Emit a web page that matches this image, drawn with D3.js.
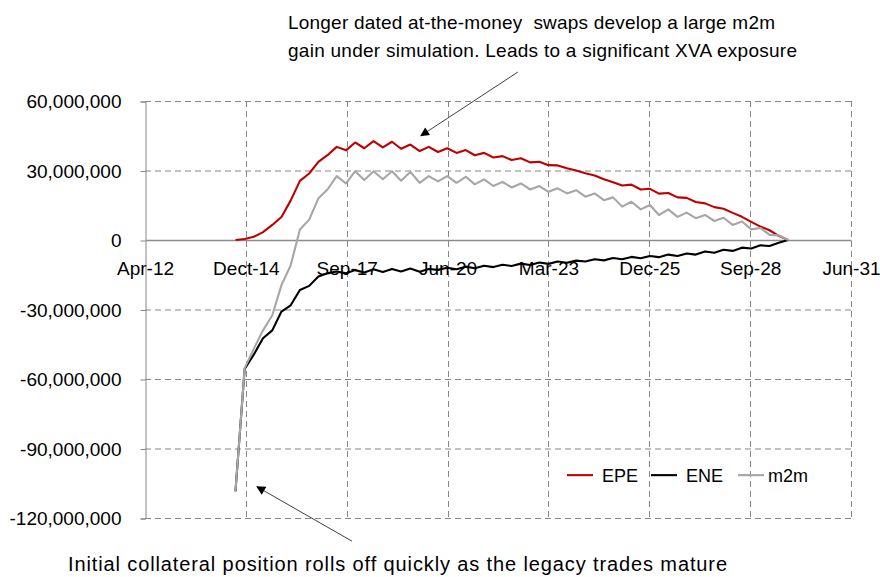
<!DOCTYPE html>
<html>
<head>
<meta charset="utf-8">
<script src="https://cdnjs.cloudflare.com/ajax/libs/d3/7.8.5/d3.min.js"></script>
<style>
  body { margin: 0; background: #fff; }
  text { font-family: "Liberation Sans", Arial, sans-serif; fill: #000; }
</style>
</head>
<body>
<div id="chart"></div>
<script>
// chart data (values in millions), quarterly points from Sep-14
var epe = [0, 0.4, 1.4, 3.4, 6.5, 9.9, 17.0, 25.5, 28.7, 33.7, 36.6,
    40.2, 38.7, 42.1, 39.6, 42.7, 40.0, 42.4, 39.4, 41.2, 38.4,
    40.2, 38.0, 39.6, 37.6, 38.8, 36.6, 37.6, 35.6, 36.2, 34.5,
    35.3, 33.5, 33.8, 32.3, 32.2, 31.0, 30.0, 28.8, 27.8, 26.2,
    24.9, 23.5, 23.9, 21.8, 22.1, 20.0, 20.3, 18.4, 18.2, 16.4,
    15.8, 14.2, 13.5, 11.7, 10.0, 7.8, 5.8, 4.2, 1.8, 0];

var ene = [-108.5, -55.7, -49.5, -42.4, -39.0, -30.9, -28.2, -21.6, -19.8, -15.8, -14.4,
    -13.6, -14.4, -13.0, -14.0, -12.6, -13.8, -12.5, -13.6, -12.3, -13.7,
    -12.5, -12.9, -12.0, -12.6, -11.5, -12.2, -11.1, -11.7, -10.7, -11.2,
    -10.2, -10.8, -9.7, -10.3, -9.3, -9.8, -8.9, -9.3, -8.3, -8.8,
    -7.8, -8.3, -7.3, -7.9, -6.9, -7.4, -6.3, -6.9, -5.8, -6.3,
    -5.0, -5.5, -4.2, -4.7, -3.3, -3.7, -2.3, -2.6, -1.2, 0];

var m2m = [-108.5, -55.3, -47.0, -39.0, -32.5, -19.5, -11.0, 4.5, 8.8, 18.0, 21.8,
    27.6, 24.4, 29.7, 25.9, 29.7, 26.2, 29.7, 25.6, 29.4, 24.7,
    27.6, 25.3, 27.6, 24.7, 27.3, 24.0, 26.2, 23.3, 25.1, 22.7,
    24.4, 21.8, 23.3, 20.8, 22.3, 20.1, 21.5, 18.7, 20.1, 17.2,
    18.4, 14.4, 16.5, 13.2, 15.1, 10.8, 13.2, 10.0, 11.8, 9.4,
    10.8, 8.2, 9.6, 6.5, 8.0, 4.6, 5.2, 2.2, 2.0, 0];

var seriesNames = ['EPE', 'ENE', 'm2m'];
var seriesColors = ['#c00000', '#000000', '#a6a6a6'];

var xTickDates = ['2012-04-01', '2014-12-27', '2017-09-22', '2020-06-18',
    '2023-03-15', '2025-12-09', '2028-09-04', '2031-06-01'];
var xTickLabels = ['Apr-12', 'Dect-14', 'Sep-17', 'Jun-20', 'Mar-23', 'Dec-25', 'Sep-28', 'Jun-31'];
var yTicks = [-120, -90, -60, -30, 0, 30, 60];

var noteTop = ['Longer dated at-the-money  swaps develop a large m2m',
    'gain under simulation. Leads to a significant XVA exposure'];
var noteBottom = 'Initial collateral position rolls off quickly as the legacy trades mature';

// svg size and margins
var svgWidth = 880;
var svgHeight = 577;

var margins = {
    top: 101,
    bottom: 59,
    right: 29,
    left: 145
};

var width = svgWidth - margins.left - margins.right;
var height = svgHeight - margins.top - margins.bottom;

var svg = d3.select('#chart')
    .append('svg')
    .attr('width', svgWidth)
    .attr('height', svgHeight);

var chartGroup = svg.append('g')
    .attr('transform', `translate(${margins.left}, ${margins.top})`);

// quarterly dates for the series
var parseDate = d3.timeParse('%Y-%m-%d');
var startDate = new Date(2014, 8, 15);
var dates = d3.range(epe.length).map(i => d3.timeMonth.offset(startDate, 3 * i));
var tickDates = xTickDates.map(parseDate);

// scales
var xScale = d3.scaleTime()
    .domain([tickDates[0], tickDates[tickDates.length - 1]])
    .range([0, width]);

var yScale = d3.scaleLinear()
    .domain([-120, 60])
    .range([height, 0]);

var fmt = d3.formatLocale({decimal: '.', thousands: ',', grouping: [3], currency: ['', ''], minus: '-'}).format(',');

// grid lines
chartGroup.append('g')
    .selectAll('line')
    .data(yTicks.filter(d => d !== 0))
    .enter()
    .append('line')
    .attr('x1', 0)
    .attr('x2', width)
    .attr('y1', d => yScale(d) + 0.5)
    .attr('y2', d => yScale(d) + 0.5)
    .attr('stroke', '#878787')
    .attr('stroke-width', 1)
    .attr('stroke-dasharray', '6,4');

chartGroup.append('g')
    .selectAll('line')
    .data(tickDates.slice(1))
    .enter()
    .append('line')
    .attr('x1', d => Math.round(xScale(d)) + 0.5)
    .attr('x2', d => Math.round(xScale(d)) + 0.5)
    .attr('y1', 0)
    .attr('y2', height)
    .attr('stroke', '#878787')
    .attr('stroke-width', 1)
    .attr('stroke-dasharray', '6,4');

// y axis
var leftAxis = d3.axisLeft(yScale)
    .tickValues(yTicks)
    .tickSize(5)
    .tickPadding(19)
    .tickFormat(d => fmt(d * 1e6));

var yAxisGroup = chartGroup.append('g')
    .attr('transform', 'translate(0.5, 0.5)')
    .call(leftAxis);

yAxisGroup.select('.domain').attr('stroke', '#868686');
yAxisGroup.selectAll('.tick line').attr('stroke', '#868686');
yAxisGroup.selectAll('text')
    .style('font-size', '19px')
    .attr('fill', '#000');

// x axis on the zero line
var bottomAxis = d3.axisBottom(xScale)
    .tickValues(tickDates)
    .tickSize(0)
    .tickSizeOuter(0)
    .tickPadding(22)
    .tickFormat((d, i) => xTickLabels[i]);

var xAxisGroup = chartGroup.append('g')
    .attr('transform', `translate(0, ${yScale(0)})`)
    .call(bottomAxis);

xAxisGroup.select('.domain')
    .attr('stroke', '#8c8c8c')
    .attr('stroke-width', 1.3);
xAxisGroup.selectAll('text')
    .style('font-size', '19px')
    .attr('fill', '#000');

// series lines
var series = [epe, ene, m2m];

var line = d3.line()
    .x((d, i) => xScale(dates[i]))
    .y(d => yScale(d));

chartGroup.selectAll('.series')
    .data(series)
    .enter()
    .append('path')
    .attr('class', 'series')
    .attr('d', d => line(d))
    .attr('fill', 'none')
    .attr('stroke', (d, i) => seriesColors[i])
    .attr('stroke-width', 2.1)
    .attr('stroke-linejoin', 'round');

// legend
var legendX = [422, 506, 593];
var legendY = yScale(-101.5);

var legend = chartGroup.selectAll('.legend')
    .data(seriesNames)
    .enter()
    .append('g')
    .attr('class', 'legend')
    .attr('transform', (d, i) => `translate(${legendX[i]}, ${legendY})`);

legend.append('line')
    .attr('x1', 0)
    .attr('x2', 26)
    .attr('y1', 0)
    .attr('y2', 0)
    .attr('stroke', (d, i) => seriesColors[i])
    .attr('stroke-width', 2.1);

legend.append('text')
    .attr('x', (d, i) => i === 2 ? 30 : 35)
    .attr('y', 6.5)
    .style('font-size', '18px')
    .text(d => d);

// annotations with arrows
svg.append('defs')
    .append('marker')
    .attr('id', 'arrow')
    .attr('viewBox', '0 0 10 10')
    .attr('refX', 9)
    .attr('refY', 5)
    .attr('markerWidth', 10)
    .attr('markerHeight', 9)
    .attr('markerUnits', 'userSpaceOnUse')
    .attr('orient', 'auto')
    .append('path')
    .attr('d', 'M0,0 L10,5 L0,10 Z')
    .attr('fill', '#000');

var arrows = [
    {from: [parseDate('2022-05-16'), 72.5], to: [parseDate('2019-09-27'), 45]},
    {from: [parseDate('2017-11-13'), -130], to: [parseDate('2015-04-16'), -106.5]}
];

chartGroup.selectAll('.arrow')
    .data(arrows)
    .enter()
    .append('line')
    .attr('class', 'arrow')
    .attr('x1', d => xScale(d.from[0]))
    .attr('y1', d => yScale(d.from[1]))
    .attr('x2', d => xScale(d.to[0]))
    .attr('y2', d => yScale(d.to[1]))
    .attr('stroke', '#404040')
    .attr('stroke-width', 1)
    .attr('marker-end', 'url(#arrow)');

var noteTopWidths = [487, 509];

svg.selectAll('.note-top')
    .data(noteTop)
    .enter()
    .append('text')
    .attr('class', 'note-top')
    .attr('x', 288)
    .attr('y', (d, i) => 29 + i * 28)
    .attr('textLength', (d, i) => noteTopWidths[i])
    .attr('lengthAdjust', 'spacing')
    .style('font-size', '19px')
    .style('white-space', 'pre')
    .text(d => d);

svg.append('text')
    .attr('x', 68)
    .attr('y', 571)
    .attr('textLength', 659)
    .attr('lengthAdjust', 'spacing')
    .style('font-size', '20px')
    .text(noteBottom);
</script>
</body>
</html>
